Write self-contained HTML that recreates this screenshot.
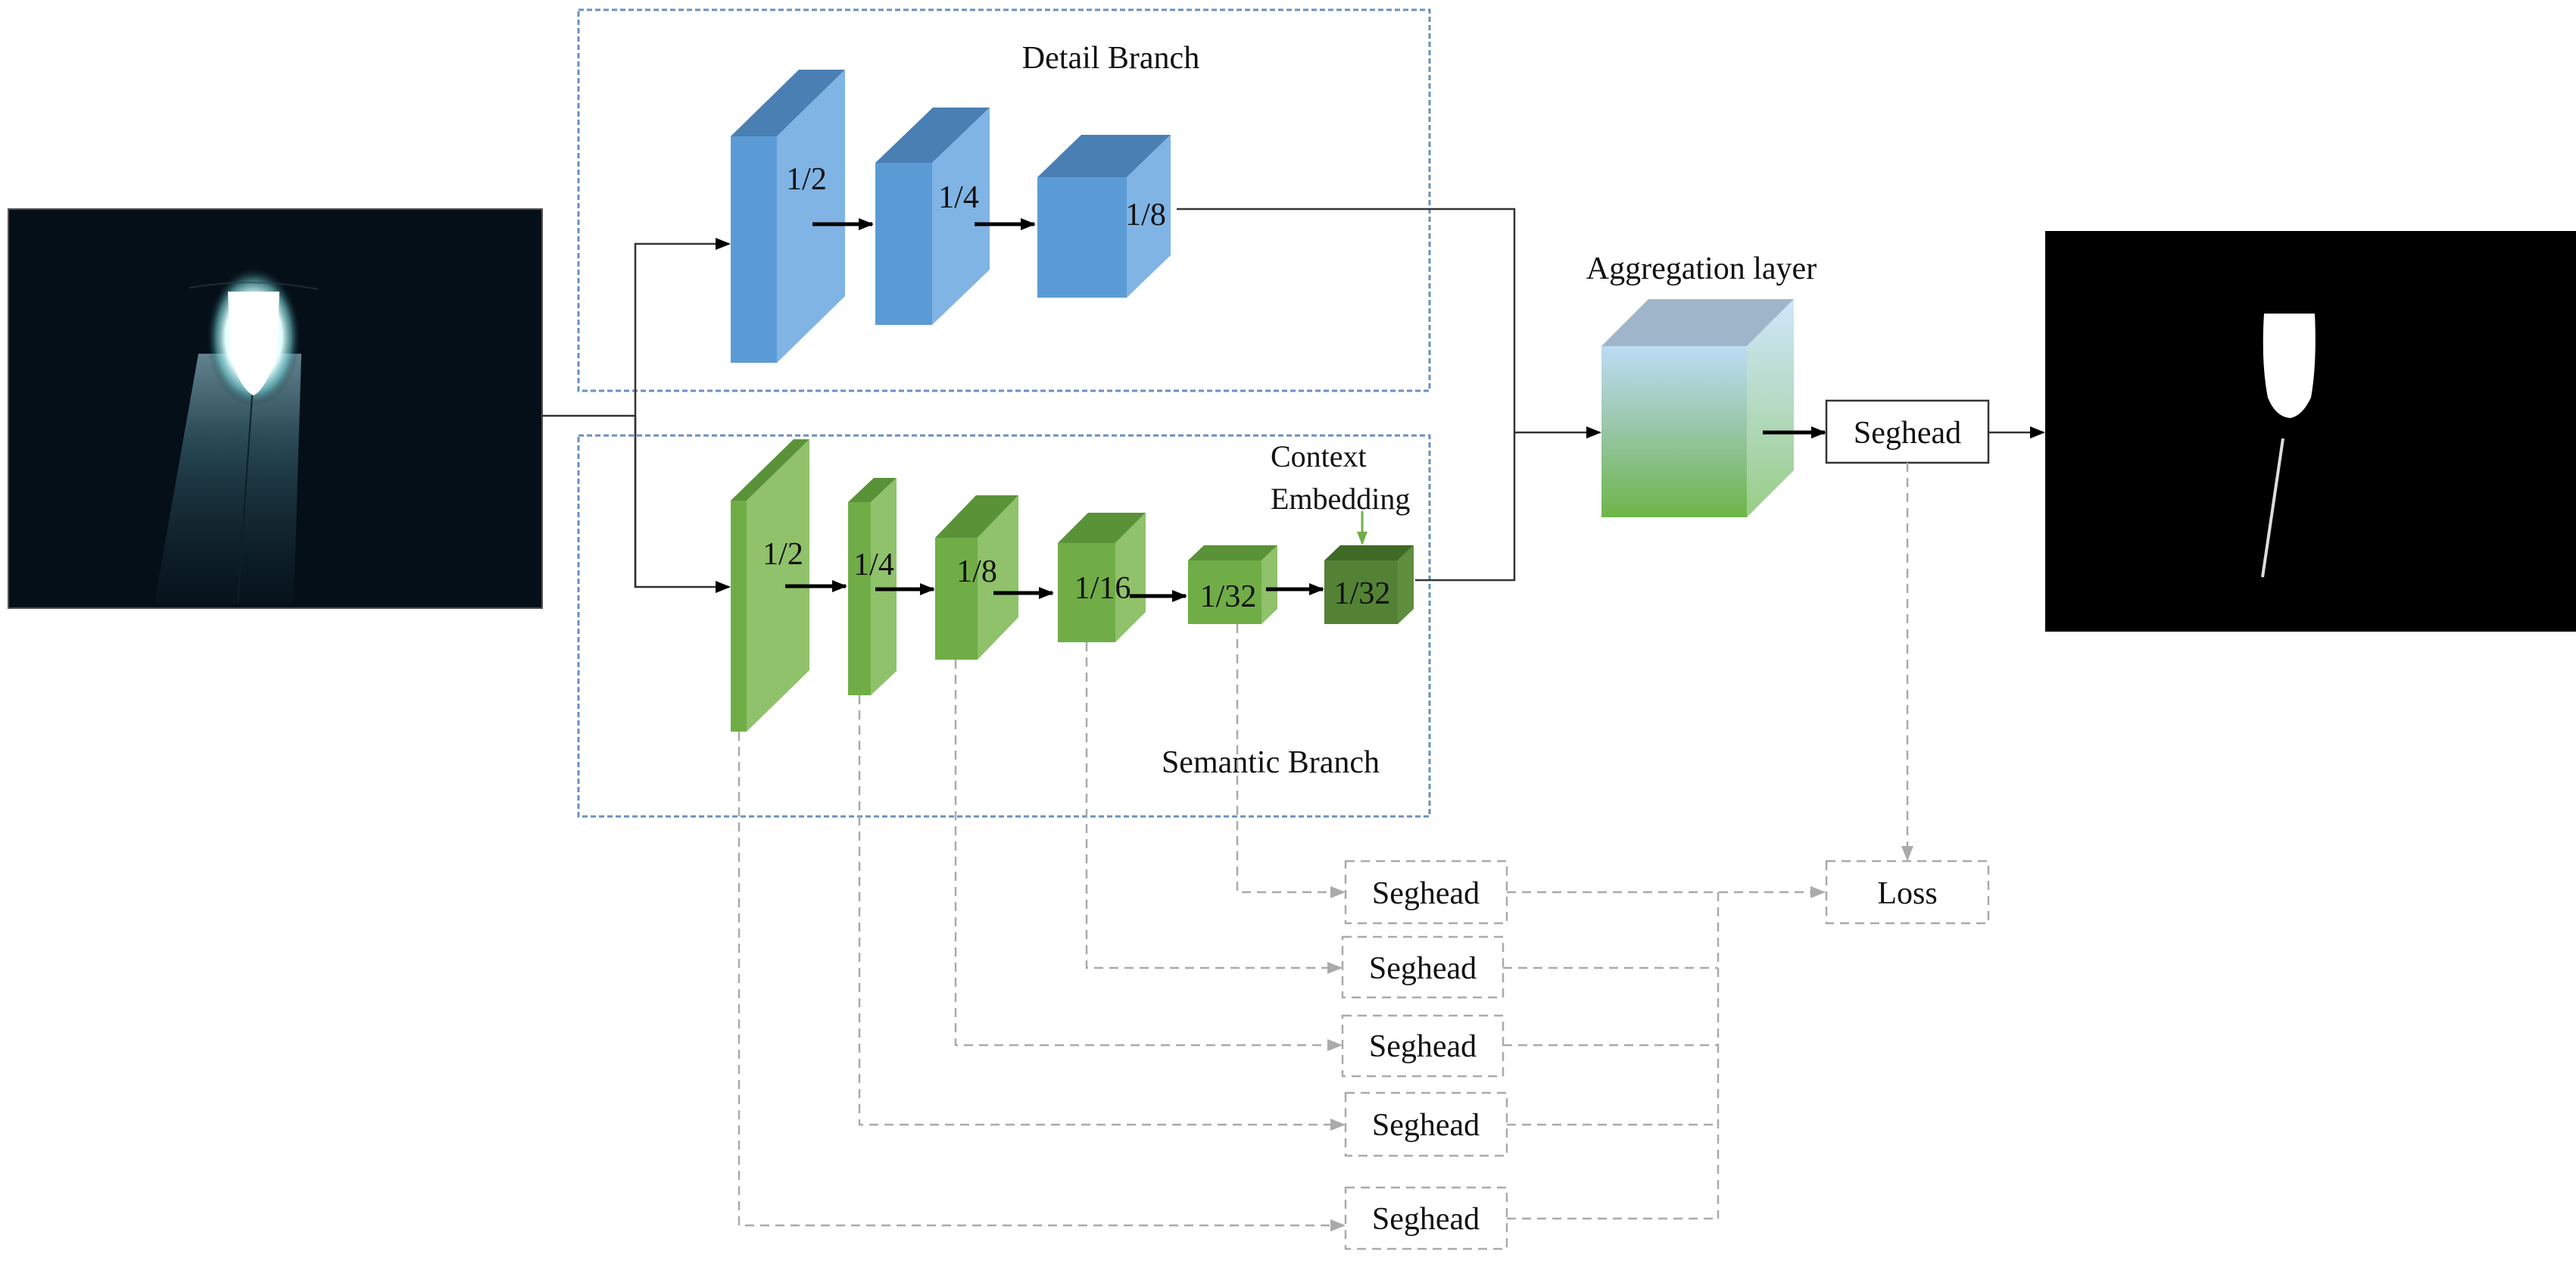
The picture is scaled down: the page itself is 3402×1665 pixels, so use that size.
<!DOCTYPE html>
<html><head><meta charset="utf-8"><style>
html,body{margin:0;padding:0;background:#fff;}
svg{display:block;}
text{font-family:"Liberation Serif",serif;fill:#111;}
</style></head><body>
<svg width="3402" height="1665" viewBox="0 0 3402 1665" xmlns="http://www.w3.org/2000/svg">
<defs>
<marker id="abig" markerWidth="20" markerHeight="20" refX="18" refY="10" orient="auto" markerUnits="userSpaceOnUse" viewBox="0 0 20 20"><path d="M0,2 L20,10 L0,18 z" fill="#000"/></marker>
<marker id="ag" markerWidth="20" markerHeight="20" refX="18" refY="10" orient="auto" markerUnits="userSpaceOnUse" viewBox="0 0 20 20"><path d="M0,2 L20,10 L0,18 z" fill="#aaa"/></marker>
<marker id="agr" markerWidth="18" markerHeight="18" refX="16" refY="9" orient="auto" markerUnits="userSpaceOnUse" viewBox="0 0 18 18"><path d="M0,2 L18,9 L0,16 z" fill="#70ad47"/></marker>
<radialGradient id="glow" cx="0.5" cy="0.5" r="0.5">
<stop offset="0" stop-color="#ffffff"/><stop offset="0.6" stop-color="#e8ffff"/><stop offset="0.8" stop-color="#6fc8cc" stop-opacity="0.6"/><stop offset="1" stop-color="#0a2530" stop-opacity="0"/>
</radialGradient>
<linearGradient id="wedge" x1="0" y1="0" x2="0" y2="1">
<stop offset="0" stop-color="#9fd0de"/><stop offset="0.35" stop-color="#3f6f7c"/><stop offset="1" stop-color="#0a1c26" stop-opacity="0.5"/>
</linearGradient>
<linearGradient id="aggF" x1="0" y1="0" x2="0" y2="1">
<stop offset="0" stop-color="#bddcf6"/><stop offset="0.5" stop-color="#96c6a4"/><stop offset="1" stop-color="#6db548"/>
</linearGradient>
<linearGradient id="aggS" x1="0" y1="0" x2="0" y2="1">
<stop offset="0" stop-color="#cfe6fb"/><stop offset="1" stop-color="#99cd86"/>
</linearGradient>
</defs>

<!-- input image -->
<rect x="11" y="276" width="705" height="527" fill="#03090f"/>
<rect x="11" y="276" width="705" height="527" fill="#0a1a24" opacity="0.4"/>
<polygon points="262,467 398,467 388,796 204,796" fill="url(#wedge)" opacity="0.6"/>
<ellipse cx="335" cy="445" rx="62" ry="92" fill="url(#glow)"/>
<path d="M301,385 L369,385 L366,470 Q350,515 335,522 Q318,515 304,470 Z" fill="#ffffff"/>
<path d="M250,380 Q335,365 420,382" stroke="#2c4048" stroke-width="2" fill="none" opacity="0.6"/>
<line x1="333" y1="522" x2="314" y2="796" stroke="#0d2028" stroke-width="2"/>
<rect x="11" y="276" width="705" height="527" fill="none" stroke="#555" stroke-width="2"/>

<!-- output image -->
<rect x="2701" y="305" width="701" height="529" fill="#000"/>
<path d="M2990,414 L3057,414 Q3060,480 3052,525 Q3040,550 3024,552 Q3005,550 2995,525 Q2986,480 2990,414 Z" fill="#fff"/>
<line x1="3015" y1="579" x2="2988" y2="762" stroke="#ddd" stroke-width="4"/>

<!-- branch boxes -->
<rect x="764" y="13" width="1124" height="503" fill="none" stroke="#6a8fc0" stroke-width="3" stroke-dasharray="7 4"/>
<rect x="764" y="575" width="1124" height="503" fill="none" stroke="#6a8fc0" stroke-width="3" stroke-dasharray="7 4"/>
<text x="1467" y="90" font-size="42" text-anchor="middle">Detail Branch</text>
<text x="1678" y="1020" font-size="42" text-anchor="middle">Semantic Branch</text>

<!-- input connectors -->
<polyline points="716,549 839,549" fill="none" stroke="#333" stroke-width="2.5"/>
<polyline points="839,775 839,322 963,322" fill="none" stroke="#333" stroke-width="2.5" marker-end="url(#abig)"/>
<polyline points="839,549 839,775 963,775" fill="none" stroke="#333" stroke-width="2.5" marker-end="url(#abig)"/>

<!-- blue cubes -->
<g>
<polygon points="965,180 1055,92 1116,92 1026,180" fill="#4a7fb3"/>
<polygon points="1026,180 1116,92 1116,391 1026,479" fill="#80b4e5"/>
<rect x="965" y="180" width="61" height="299" fill="#5b9bd5"/>
<polygon points="1156,215 1232,142 1307,142 1231,215" fill="#4a7fb3"/>
<polygon points="1231,215 1307,142 1307,356 1231,429" fill="#80b4e5"/>
<rect x="1156" y="215" width="75" height="214" fill="#5b9bd5"/>
<polygon points="1370,234 1428,178 1546,178 1488,234" fill="#4a7fb3"/>
<polygon points="1488,234 1546,178 1546,337 1488,393" fill="#80b4e5"/>
<rect x="1370" y="234" width="118" height="159" fill="#5b9bd5"/>
</g>
<text x="1065" y="250" font-size="42" text-anchor="middle">1/2</text>
<text x="1266" y="274" font-size="42" text-anchor="middle">1/4</text>
<text x="1513" y="297" font-size="42" text-anchor="middle">1/8</text>
<line x1="1073" y1="296" x2="1152" y2="296" stroke="#000" stroke-width="5" marker-end="url(#abig)"/>
<line x1="1287" y1="296" x2="1366" y2="296" stroke="#000" stroke-width="5" marker-end="url(#abig)"/>

<!-- green cubes -->
<g>
<polygon points="965,661 1048,580 1069,580 986,661" fill="#5a9238"/>
<polygon points="986,661 1069,580 1069,885 986,966" fill="#8fc26a"/>
<rect x="965" y="661" width="21" height="305" fill="#70ad47"/>
<polygon points="1120,663 1154,631 1184,631 1150,663" fill="#5a9238"/>
<polygon points="1150,663 1184,631 1184,886 1150,918" fill="#8fc26a"/>
<rect x="1120" y="663" width="30" height="255" fill="#70ad47"/>
<polygon points="1235,710 1289,654 1345,654 1291,710" fill="#5a9238"/>
<polygon points="1291,710 1345,654 1345,815 1291,871" fill="#8fc26a"/>
<rect x="1235" y="710" width="56" height="161" fill="#70ad47"/>
<polygon points="1397,717 1437,677 1513,677 1473,717" fill="#5a9238"/>
<polygon points="1473,717 1513,677 1513,808 1473,848" fill="#8fc26a"/>
<rect x="1397" y="717" width="76" height="131" fill="#70ad47"/>
<polygon points="1569,740 1590,720 1687,720 1666,740" fill="#5a9238"/>
<polygon points="1666,740 1687,720 1687,804 1666,824" fill="#8fc26a"/>
<rect x="1569" y="740" width="97" height="84" fill="#70ad47"/>
<polygon points="1749,740 1770,720 1867,720 1846,740" fill="#3e6a26"/>
<polygon points="1846,740 1867,720 1867,804 1846,824" fill="#5f8e3e"/>
<rect x="1749" y="740" width="97" height="84" fill="#548235"/>
</g>
<text x="1034" y="745" font-size="42" text-anchor="middle">1/2</text>
<text x="1154" y="759" font-size="42" text-anchor="middle">1/4</text>
<text x="1290" y="768" font-size="42" text-anchor="middle">1/8</text>
<text x="1456" y="790" font-size="42" text-anchor="middle">1/16</text>
<text x="1622" y="801" font-size="42" text-anchor="middle">1/32</text>
<text x="1799" y="797" font-size="42" text-anchor="middle">1/32</text>
<line x1="1037" y1="774" x2="1117" y2="774" stroke="#000" stroke-width="5" marker-end="url(#abig)"/>
<line x1="1156" y1="778" x2="1233" y2="778" stroke="#000" stroke-width="5" marker-end="url(#abig)"/>
<line x1="1312" y1="783" x2="1390" y2="783" stroke="#000" stroke-width="5" marker-end="url(#abig)"/>
<line x1="1492" y1="787" x2="1566" y2="787" stroke="#000" stroke-width="5" marker-end="url(#abig)"/>
<line x1="1672" y1="778" x2="1747" y2="778" stroke="#000" stroke-width="5" marker-end="url(#abig)"/>

<text x="1678" y="616" font-size="40">Context</text>
<text x="1678" y="672" font-size="40">Embedding</text>
<line x1="1799" y1="675" x2="1799" y2="718" stroke="#70ad47" stroke-width="3" marker-end="url(#agr)"/>

<!-- to aggregation -->
<polyline points="1554,276 2000,276 2000,766 1869,766" fill="none" stroke="#333" stroke-width="2.5"/>
<line x1="2000" y1="571" x2="2113" y2="571" stroke="#333" stroke-width="2.5" marker-end="url(#abig)"/>

<!-- aggregation cube -->
<polygon points="2115,457 2177,395 2369,395 2307,457" fill="#9fb5c9"/>
<polygon points="2307,457 2369,395 2369,621 2307,683" fill="url(#aggS)"/>
<rect x="2115" y="457" width="192" height="226" fill="url(#aggF)"/>
<text x="2247" y="368" font-size="42" text-anchor="middle">Aggregation layer</text>
<line x1="2328" y1="571" x2="2410" y2="571" stroke="#000" stroke-width="5" marker-end="url(#abig)"/>
<rect x="2412" y="529" width="214" height="82" fill="#fff" stroke="#333" stroke-width="2.5"/>
<text x="2519" y="585" font-size="42" text-anchor="middle">Seghead</text>
<line x1="2626" y1="571" x2="2699" y2="571" stroke="#333" stroke-width="2.5" marker-end="url(#abig)"/>

<!-- grey dashed -->
<g fill="none" stroke="#aaa" stroke-width="2.5" stroke-dasharray="12 8">
<line x1="2519" y1="611" x2="2519" y2="1135" marker-end="url(#ag)"/>
<polyline points="976,966 976,1618 1775,1618" marker-end="url(#ag)"/>
<polyline points="1135,918 1135,1485 1775,1485" marker-end="url(#ag)"/>
<polyline points="1262,871 1262,1380 1771,1380" marker-end="url(#ag)"/>
<polyline points="1435,848 1435,1278 1771,1278" marker-end="url(#ag)"/>
<polyline points="1634,824 1634,1178 1775,1178" marker-end="url(#ag)"/>
<line x1="1990" y1="1178" x2="2409" y2="1178" marker-end="url(#ag)"/>
<line x1="2269" y1="1178" x2="2269" y2="1609"/>
<line x1="1985" y1="1278" x2="2269" y2="1278"/>
<line x1="1985" y1="1380" x2="2269" y2="1380"/>
<line x1="1990" y1="1485" x2="2269" y2="1485"/>
<line x1="1990" y1="1609" x2="2269" y2="1609"/>
<rect x="1777" y="1137" width="213" height="82"/>
<rect x="1773" y="1237" width="212" height="80"/>
<rect x="1773" y="1341" width="212" height="80"/>
<rect x="1777" y="1443" width="213" height="83"/>
<rect x="1777" y="1568" width="213" height="81"/>
<rect x="2412" y="1137" width="214" height="82"/>
</g>
<g font-size="42" text-anchor="middle">
<text x="1883" y="1193">Seghead</text>
<text x="1879" y="1292">Seghead</text>
<text x="1879" y="1395">Seghead</text>
<text x="1883" y="1499">Seghead</text>
<text x="1883" y="1623">Seghead</text>
<text x="2519" y="1193">Loss</text>
</g>
</svg>
</body></html>
